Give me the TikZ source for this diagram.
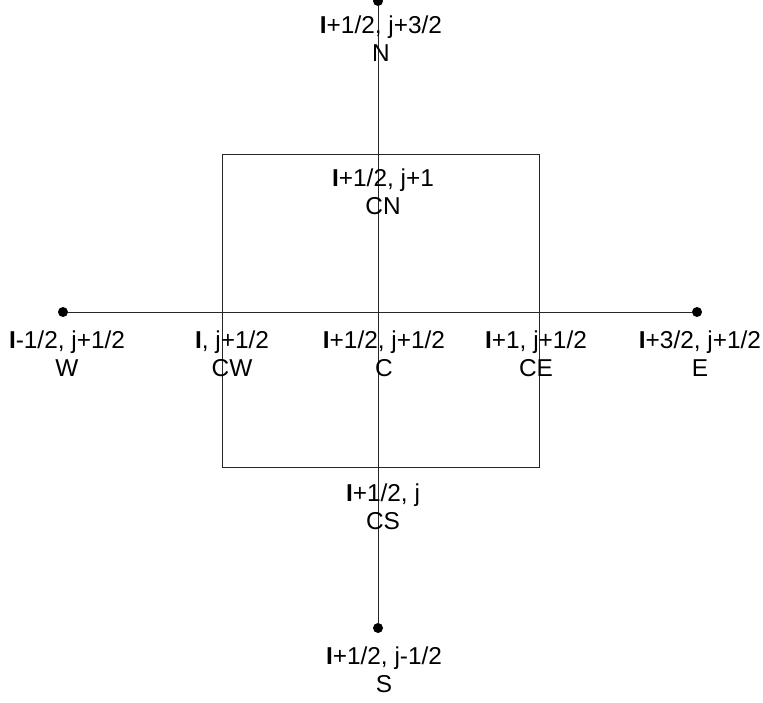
\documentclass[tikz,border=0pt]{standalone}
\usepackage{fontspec}
\setmainfont{Liberation Sans}
\newcommand{\bI}{\textbf{I}}
\begin{document}
\begin{tikzpicture}[x=0.5pt,y=-0.5pt,
  dot/.style={circle,fill=black,inner sep=0pt,minimum size=5pt},
  lbl/.style={align=center,inner sep=0pt,anchor=base,font=\fontsize{12.2pt}{13.8pt}\selectfont},
  thin/.style={line width=0.5pt,draw=black!85}]
\useasboundingbox (0,0) rectangle (763,702);
\node[thin,draw,inner sep=0pt,minimum width=158.5pt,minimum height=156.5pt] (cell) at (380.5,310.5) {};
\node[dot] (N) at (378,1) {};
\node[dot] (S) at (378,628) {};
\node[dot] (W) at (63,312) {};
\node[dot] (E) at (697,312) {};
\draw[thin] (N) -- (S);
\draw[thin] (W) -- (E);
\node[lbl] (lN) at (381,61) {\bI+1/2, j+3/2\\N};
\node[lbl] (lCN) at (383,214) {\bI+1/2, j+1\\CN};
\node[lbl] (lW) at (67,376) {\bI-1/2, j+1/2\\W};
\node[lbl] (lCW) at (232,376) {\bI, j+1/2\\CW};
\node[lbl] (lC) at (384,376) {\bI+1/2, j+1/2\\C};
\node[lbl] (lCE) at (536,376) {\bI+1, j+1/2\\CE};
\node[lbl] (lE) at (700,376) {\bI+3/2, j+1/2\\E};
\node[lbl] (lCS) at (383,529) {\bI+1/2, j\\CS};
\node[lbl] (lS) at (384,692) {\bI+1/2, j-1/2\\S};
\end{tikzpicture}
\end{document}
